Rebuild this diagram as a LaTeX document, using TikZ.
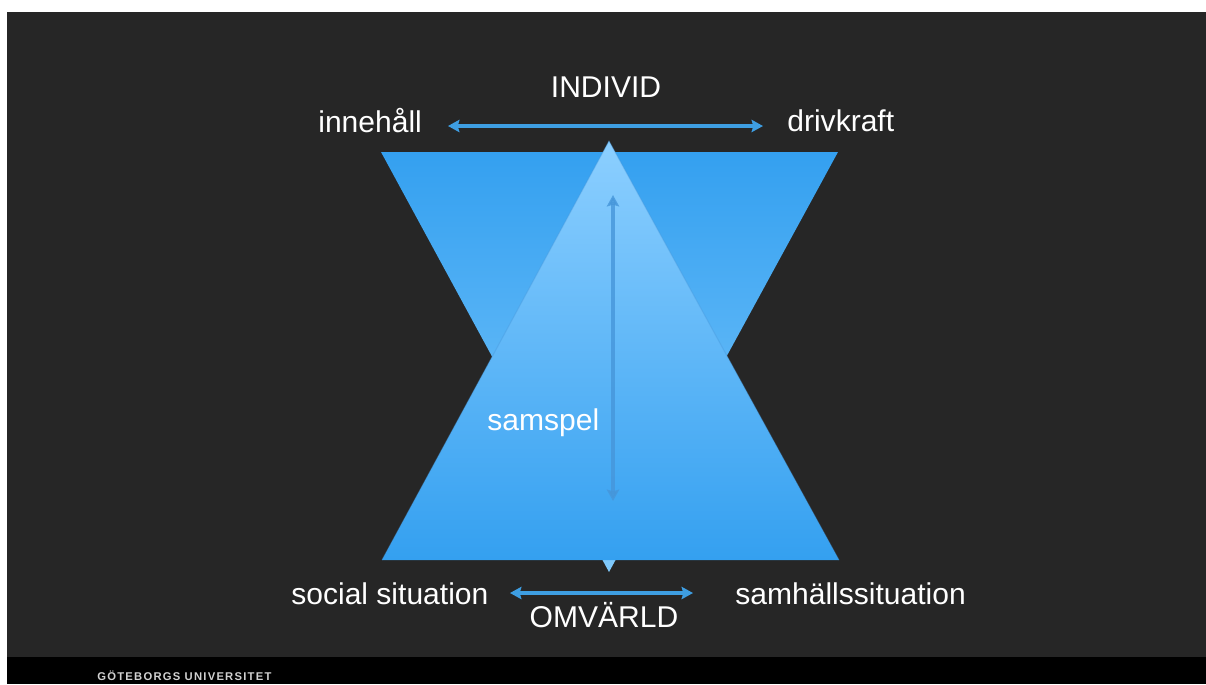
\documentclass[tikz,border=0pt]{standalone}
\usepackage{fontspec}
\setmainfont{Liberation Sans}
\newfontfamily\footerfont[LetterSpace=11]{Liberation Sans}
\usetikzlibrary{arrows.meta}
\definecolor{slide}{RGB}{38,38,38}
\definecolor{deepblue}{RGB}{52,160,240}
\definecolor{paleblue}{RGB}{140,207,255}
\definecolor{tipblue}{RGB}{128,202,252}
\definecolor{arrowblue}{RGB}{62,158,226}
\definecolor{shaftblue}{RGB}{70,150,218}

\begin{document}
\begin{tikzpicture}[x=0.02cm, y=-0.02cm, >={Stealth[length=6.5pt,width=7pt,inset=1pt]},
    label/.style={text=white, inner sep=0pt, font=\fontsize{17.1}{20}\selectfont}]
  % ================================================================== slide
  \useasboundingbox (0,0) rectangle (1206,684);
  \fill[white] (0,0) rectangle (1206,684);
  \fill[slide] (7,12) rectangle (1206,657);
  \fill[black] (7,657) rectangle (1206,684);
  \node[anchor=base west, inner sep=0pt, text=white!82!black, font=\footerfont\fontsize{6.4}{8}\selectfont\bfseries] (gu) at (97,680) {GÖTEBORGS UNIVERSITET};
  % ================================================================== the two triangles
  \coordinate (ftl) at (381,152); \coordinate (ftr) at (838,152); \coordinate (ftip) at (609,572);
  \coordinate (rbl) at (382,560); \coordinate (rbr) at (839,560); \coordinate (rtop) at (609,141);
  \shade[top color=deepblue, bottom color=tipblue] (ftl) -- (ftr) -- (ftip) -- cycle;
  \shade[top color=paleblue, bottom color=deepblue] (rbl) -- (rtop) -- (rbr) -- cycle;
  \draw[shaftblue, opacity=0.35, line width=0.6pt] (rbl) -- (rtop) -- (rbr);
  % ================================================================== labels
  \node[label, anchor=base] (individ) at (606,97) {INDIVID};
  \node[label, anchor=base west] (innehall) at (318,132) {innehåll};
  \node[label, anchor=base west] (drivkraft) at (787,131) {drivkraft};
  \node[label, anchor=base west] (samspel) at (487,430) {samspel};
  \node[label, anchor=base west] (social) at (291,604) {social situation};
  \node[label, anchor=base west] (samhall) at (735,604) {samhällssituation};
  \node[label, anchor=base] (omvarld) at (604,627) {OMVÄRLD};
  % ================================================================== arrows
  \coordinate (ileft) at (448,126); \coordinate (iright) at (763,126);
  \coordinate (oleft) at (510,593); \coordinate (oright) at (693,593);
  \coordinate (stop) at (613,195); \coordinate (sbot) at (613,501);
  \draw[<->, arrowblue, line width=2pt] (ileft) -- (iright);
  \draw[<->, arrowblue, line width=2pt] (oleft) -- (oright);
  \draw[<->, shaftblue, opacity=0.8, line width=2.6pt] (stop) -- (sbot);
\end{tikzpicture}
\end{document}
